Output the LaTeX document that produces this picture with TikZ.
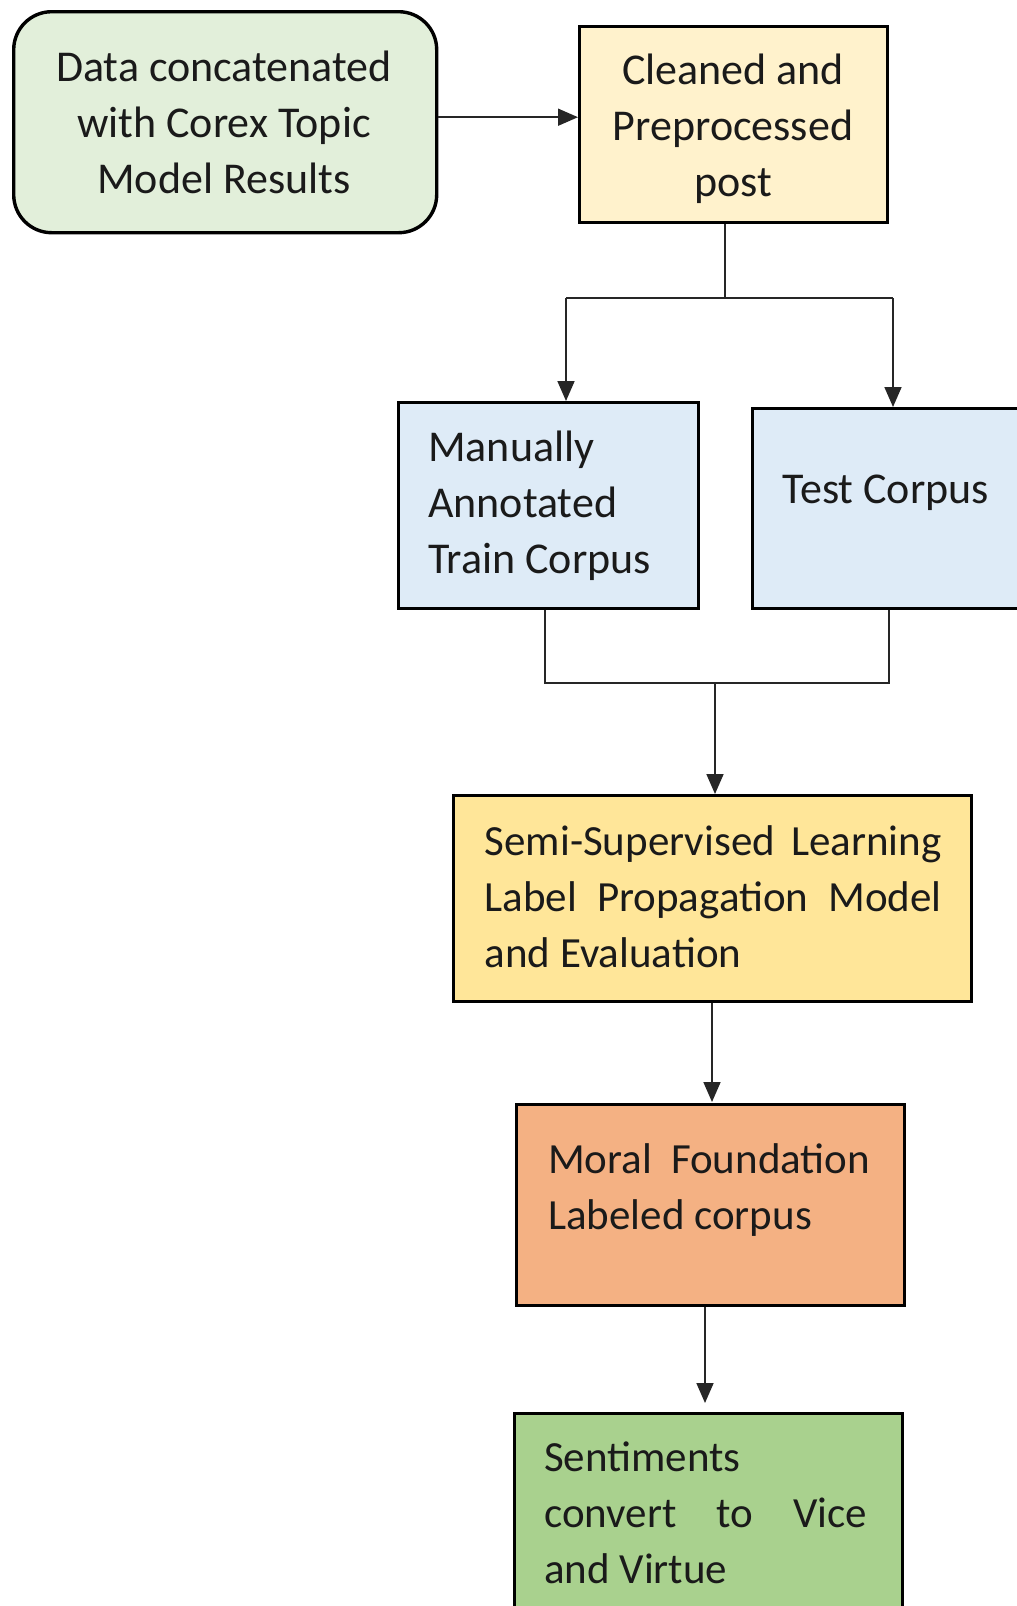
\documentclass[tikz,border=0pt]{standalone}
\usepackage{fontspec}
\setmainfont{Carlito}
\usetikzlibrary{arrows.meta}
\definecolor{cGreenL}{HTML}{E2EFDA}
\definecolor{cCream}{HTML}{FFF2CC}
\definecolor{cBlue}{HTML}{DEEBF7}
\definecolor{cGold}{HTML}{FFE699}
\definecolor{cOrange}{HTML}{F4B183}
\definecolor{cGreen}{HTML}{A9D18E}
\definecolor{cInk}{HTML}{1A1A1A}
\tikzset{
  boxnode/.style={draw=black, line width=3.4pt, inner sep=0pt, anchor=north west},
  txt/.style={text=cInk, inner sep=0pt, font=\fontsize{44pt}{56pt}\selectfont},
  txtb/.style={txt, font=\fontsize{43pt}{56pt}\selectfont},
  conn/.style={draw=black!85, line width=1.7pt},
  arr/.style={conn, -{Triangle[width=17pt,length=20pt]}},
}
\begin{document}
\begin{tikzpicture}[x=1pt,y=-1pt]
\useasboundingbox (0,0) rectangle (1017,1606);
\fill[white] (0,0) rectangle (1017,1606);
% boxes
\node[boxnode, fill=cGreenL, rounded corners=38pt, minimum width=423pt, minimum height=221pt] (b1) at (12,10) {};
\node[boxnode, fill=cCream, minimum width=308pt, minimum height=196pt] (b2) at (578,25) {};
\node[boxnode, fill=cBlue, minimum width=300pt, minimum height=206pt] (b3) at (397,401) {};
\node[boxnode, fill=cBlue, minimum width=290pt, minimum height=200pt] (b4) at (751,407) {};
\node[boxnode, fill=cGold, minimum width=518pt, minimum height=206pt] (b5) at (452,794) {};
\node[boxnode, fill=cOrange, minimum width=388pt, minimum height=201pt] (b6) at (515,1103) {};
\node[boxnode, fill=cGreen, minimum width=388pt, minimum height=200pt] (b7) at (513,1412) {};
% texts
\node[txt, align=center] (t1) at (224,122) {Data concatenated\\with Corex Topic\\Model Results};
\node[txt, align=center] (t2) at (733,129) {Cleaned and\\Preprocessed\\post};
\node[txt, align=left, anchor=west] (t3) at (428,506) {Manually\\Annotated\\Train Corpus};
\node[txt, anchor=west] (t4) at (782.5,493) {Test Corpus};
\node[txtb, align=left, anchor=west] (t5) at (484.5,897) {\makebox[457pt][s]{Semi-Supervised Learning}\\\makebox[457pt][s]{Label Propagation Model}\\and Evaluation};
\node[txtb, align=left, anchor=west] (t6) at (548,1190) {\makebox[322pt][s]{Moral Foundation}\\Labeled corpus};
\node[txtb, align=left, anchor=west] (t7) at (544,1513) {Sentiments\\\makebox[323pt][s]{convert to Vice}\\and Virtue};
% junction points
\coordinate (j1) at (725,298);
\coordinate (j1l) at (566,298);
\coordinate (j1r) at (893,298);
\coordinate (j2l) at (545,683);
\coordinate (j2r) at (889,683);
\coordinate (j2) at (715,683);
% connectors
\draw[arr] ([yshift=5pt]b1.east) -- ([yshift=5pt]b1.east -| b2.west);
\draw[conn] (b2.south -| j1) -- (j1);
\draw[conn] (j1l) -- (j1r);
\draw[arr] (j1l) -- (j1l |- b3.north);
\draw[arr] (j1r) -- (j1r |- b4.north);
\draw[conn] (b3.south -| j2l) -- (j2l) -- (j2r) -- (b4.south -| j2r);
\draw[arr] (j2) -- (j2 |- b5.north);
\draw[arr] (b5.south -| 712,0) -- ([yshift=1pt]b6.north -| 712,0);
\draw[arr] (b6.south -| 705,0) -- ([yshift=9pt]b7.north -| 705,0);
\end{tikzpicture}
\end{document}
